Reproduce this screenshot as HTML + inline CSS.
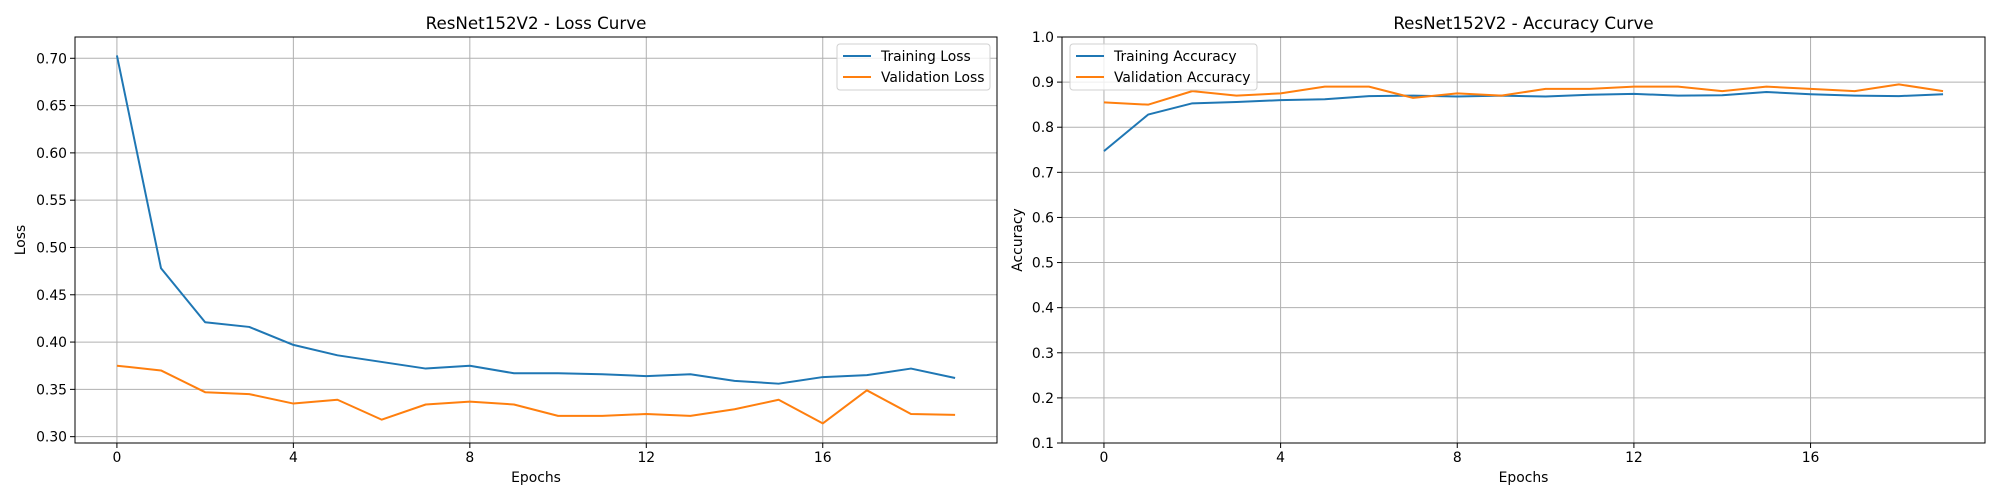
<!DOCTYPE html>
<html><head><meta charset="utf-8">
<style>html,body{margin:0;padding:0;background:#fff}svg{display:block;font-family:"DejaVu Sans","Liberation Sans",sans-serif}</style>
</head><body>
<svg id="fig" width="2000" height="500" viewBox="0 0 2000 500" xmlns="http://www.w3.org/2000/svg"></svg>
<script>
const epochs = [0,1,2,3,4,5,6,7,8,9,10,11,12,13,14,15,16,17,18,19];
const xTicks = [0,4,8,12,16];
const lossTrain = [0.703,0.478,0.421,0.416,0.397,0.386,0.379,0.372,0.375,0.367,0.367,0.366,0.364,0.366,0.359,0.356,0.363,0.365,0.372,0.362];
const lossVal = [0.375,0.370,0.347,0.345,0.335,0.339,0.318,0.334,0.337,0.334,0.322,0.322,0.324,0.322,0.329,0.339,0.314,0.349,0.324,0.323];
const lossTicks = [0.30,0.35,0.40,0.45,0.50,0.55,0.60,0.65,0.70];
const accTrain = [0.747,0.828,0.853,0.856,0.860,0.862,0.869,0.870,0.868,0.870,0.868,0.872,0.874,0.870,0.871,0.878,0.873,0.870,0.869,0.873];
const accVal = [0.855,0.850,0.880,0.870,0.875,0.890,0.890,0.865,0.875,0.870,0.885,0.885,0.890,0.890,0.880,0.890,0.885,0.880,0.895,0.880];
const accTicks = [0.1,0.2,0.3,0.4,0.5,0.6,0.7,0.8,0.9,1.0];

const NS = "http://www.w3.org/2000/svg";
const svg = document.getElementById('fig');
function mk(tag, attrs, parent, text){
  const e = document.createElementNS(NS, tag);
  for (const k in attrs) e.setAttribute(k, attrs[k]);
  if (text !== undefined) e.textContent = text;
  (parent || svg).appendChild(e);
  return e;
}
function panel(cfg){
  const g = mk('g', {});
  
  
  const L = cfg.left, R = cfg.right, T = 37, B = 443;
  const xs = v => L + (v - (-0.95)) / (19.95 - (-0.95)) * (R - L);
  const ys = v => B - (v - cfg.ymin) / (cfg.ymax - cfg.ymin) * (B - T);
  xTicks.forEach(t => {
    const l = mk('line', {x1: xs(t), x2: xs(t), y1: T, y2: B, stroke: '#b0b0b0', 'stroke-width': 1}, g);
    
    
    const tk = mk('line', {x1: xs(t), x2: xs(t), y1: B, y2: B + 5, stroke: '#000', 'stroke-width': 1}, g);
    
    
    const tx = mk('text', {x: xs(t), y: B + 19, 'font-size': 13.9, 'text-anchor': 'middle'}, g, String(t));
    
    
  });
  cfg.yticks.forEach(t => {
    const l = mk('line', {x1: L, x2: R, y1: ys(t), y2: ys(t), stroke: '#b0b0b0', 'stroke-width': 1}, g);
    
    
    const tk = mk('line', {x1: L - 5, x2: L, y1: ys(t), y2: ys(t), stroke: '#000', 'stroke-width': 1}, g);
    
    
    const tx = mk('text', {x: L - 8, y: ys(t) + 5, 'font-size': 13.9, 'text-anchor': 'end'}, g, t.toFixed(cfg.dec));
    
    
  });
  const series = [[cfg.s1, '#1f77b4', cfg.l1], [cfg.s2, '#ff7f0e', cfg.l2]];
  series.forEach(([d, c, lab]) => {
    const p = mk('polyline', {points: d.map((v, i) => xs(epochs[i]) + ',' + ys(v)).join(' '), fill: 'none', stroke: c, 'stroke-width': 2, 'stroke-linejoin': 'round'}, g);
    
    
  });
  const frame = mk('rect', {x: L, y: T, width: R - L, height: B - T, fill: 'none', stroke: '#000', 'stroke-width': 1}, g);
  
  
  const title = mk('text', {x: (L + R) / 2, y: 29, 'font-size': 16.7, 'text-anchor': 'middle'}, g, cfg.title);
  
  
  const xl = mk('text', {x: (L + R) / 2, y: 482, 'font-size': 13.9, 'text-anchor': 'middle'}, g, 'Epochs');
  
  
  const yl = mk('text', {x: cfg.ylx, y: (T + B) / 2, 'font-size': 13.9, 'text-anchor': 'middle', transform: 'rotate(-90 ' + cfg.ylx + ' ' + (T + B) / 2 + ')'}, g, cfg.ylabel);
  
  
  const lg = mk('g', {}, g);
  
  
  mk('rect', {x: cfg.lgx, y: 44, width: cfg.lgw, height: 46, rx: 3, fill: '#fff', 'fill-opacity': 0.8, stroke: '#d0d0d0'}, lg);
  series.forEach(([d, c, lab], i) => {
    const y = 56 + i * 21;
    const ln = mk('line', {x1: cfg.lgx + 6, x2: cfg.lgx + 34, y1: y, y2: y, stroke: c, 'stroke-width': 2}, lg);
    
    
    const t = mk('text', {x: cfg.lgx + 44, y: y + 5, 'font-size': 13.9}, lg, lab);
    
    
  });
}
panel({name: 'loss-chart', left: 75, right: 997, ymin: 0.2933, ymax: 0.7225, yticks: lossTicks, dec: 2,
  s1: lossTrain, s2: lossVal, l1: 'Training Loss', l2: 'Validation Loss', title: 'ResNet152V2 - Loss Curve',
  ylabel: 'Loss', ylx: 25, lgx: 837, lgw: 153});
panel({name: 'accuracy-chart', left: 1062, right: 1985, ymin: 0.1, ymax: 1.0, yticks: accTicks, dec: 1,
  s1: accTrain, s2: accVal, l1: 'Training Accuracy', l2: 'Validation Accuracy', title: 'ResNet152V2 - Accuracy Curve',
  ylabel: 'Accuracy', ylx: 1022, lgx: 1070, lgw: 187});
</script>
</body></html>
